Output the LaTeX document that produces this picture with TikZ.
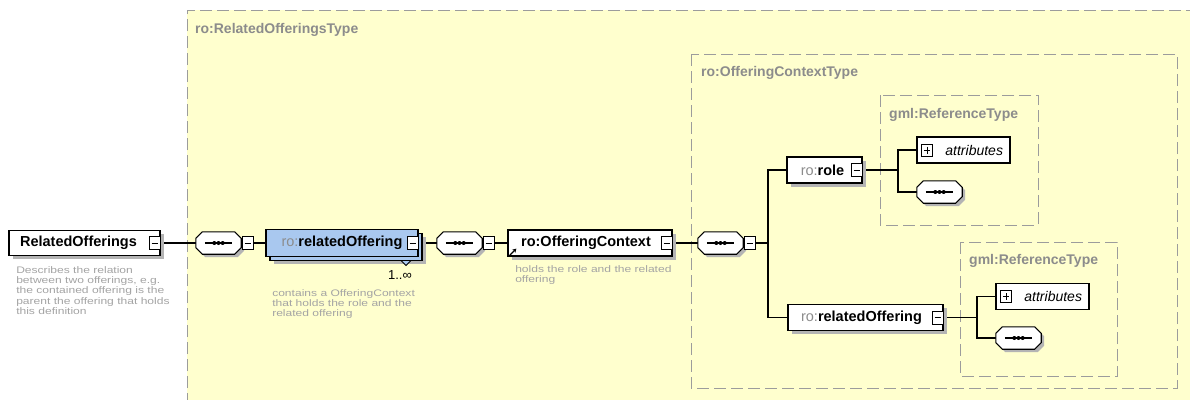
\documentclass[tikz,border=0pt]{standalone}
\usepackage{fontspec}
\setmainfont{Liberation Sans}
\usetikzlibrary{calc,shadows,arrows.meta}
\definecolor{bgyellow}{HTML}{FFFFCE}
\definecolor{blueel}{HTML}{A9C8EF}
\definecolor{grptext}{HTML}{8C8C8C}
\definecolor{desctext}{HTML}{A4A4A4}
\definecolor{prefix}{HTML}{8C8C8C}
\definecolor{dashgray}{HTML}{9C9C9C}
\definecolor{shadowgray}{HTML}{B4B4B4}
\pgfdeclarelayer{bg}
\pgfdeclarelayer{conn}
\pgfsetlayers{bg,conn,main}
\newcommand\octo[3]{($(#1.north west)+(#2+6.5,#3)$) -- ($(#1.north east)+(#2-6.5,#3)$) -- ($(#1.north east)+(#2,#3+6.5)$) -- ($(#1.south east)+(#2,#3-6.5)$) -- ($(#1.south east)+(#2-6.5,#3)$) -- ($(#1.south west)+(#2+6.5,#3)$) -- ($(#1.south west)+(#2,#3-6.5)$) -- ($(#1.north west)+(#2,#3+6.5)$) -- cycle}
\newcommand\seqnode[3]{%
  \node[seqbox] (#1) at (#2,#3) {};
  \fill[shadowgray] \octo{#1}{3}{3};
  \filldraw[fill=white,draw=black,line width=1.1pt] \octo{#1}{0}{0};
  \draw[line width=1.1pt] ($(#1.west)+(9,0)$) -- ($(#1.east)+(-9,0)$);
  \fill[black] ($(#1.center)+(-4.2,0)$) circle[radius=2pt];
  \fill[black] (#1.center) circle[radius=2pt];
  \fill[black] ($(#1.center)+(4.2,0)$) circle[radius=2pt];
}
\begin{document}
\begin{tikzpicture}[x=1pt,y=-1pt,
  elembase/.style={draw=black, line width=1.2pt, fill=white, minimum height=26pt, inner sep=0pt,
    font=\fontsize{14.5}{16}\selectfont\bfseries},
  elem/.style={elembase, drop shadow={shadow xshift=3.5pt, shadow yshift=-3.5pt, fill=shadowgray, opacity=1}},
  minusbox/.style={draw=black, line width=0.9pt, fill=white, minimum width=11pt, minimum height=13pt, inner sep=0pt,
    path picture={\draw[line width=0.9pt] ([xshift=2.5pt]path picture bounding box.west) -- ([xshift=-2.5pt]path picture bounding box.east);}},
  plusbox/.style={draw=black, line width=0.9pt, fill=white, minimum width=11pt, minimum height=12pt, inner sep=0pt,
    path picture={\draw[line width=0.9pt] ([xshift=2.5pt]path picture bounding box.west) -- ([xshift=-2.5pt]path picture bounding box.east);
      \draw[line width=0.9pt] ([yshift=-2.5pt]path picture bounding box.north) -- ([yshift=2.5pt]path picture bounding box.south);}},
  seqbox/.style={rectangle, minimum width=45pt, minimum height=22pt, inner sep=0pt},
  attrbox/.style={draw=black, line width=1.1pt, fill=white, minimum height=26pt, inner ysep=0pt, inner xsep=7pt,
    text width=79pt, align=right, font=\fontsize{14}{16}\selectfont\itshape},
  conn/.style={draw=black, line width=1.1pt},
  dashbox/.style={draw=dashgray, line width=1pt, dash pattern=on 12pt off 5pt},
  grp/.style={anchor=base west, inner sep=0pt, text=grptext, font=\fontsize{14}{16}\selectfont\bfseries},
  desc/.style={anchor=north west, inner sep=0pt, text=desctext, align=left, xscale=1.27, transform shape,
    font=\fontsize{9.5}{10.4}\selectfont}
]
\useasboundingbox (0,0) rectangle (1190,399);
\begin{pgfonlayer}{bg}
  \fill[white] (0,0) rectangle (1190,399);
  \fill[bgyellow] (187,10) rectangle (1195,405);
  \draw[dashbox] (187,405) -- (187,10) -- (1195,10);
  \draw[dashbox] (691,54) rectangle (1177,388);
  \draw[dashbox] (880,95) rectangle (1038,225);
  \draw[dashbox] (960,242) rectangle (1117,376);
\end{pgfonlayer}

% group labels
\node[grp] (g1) at (195,33) {ro:RelatedOfferingsType};
\node[grp] (g2) at (701,76) {ro:OfferingContextType};
\node[grp] (g3) at (889,118) {gml:ReferenceType};
\node[grp] (g4) at (969,264) {gml:ReferenceType};

% root element
\node[elem, minimum width=151pt, minimum height=25pt] (ro) at (84.5,243) {RelatedOfferings\hspace*{12pt}};
\node[minusbox] (rom) at ($(ro.east)+(-6,0)$) {};
\node[desc] (d1) at (16,266) {Describes the relation\\between two offerings, e.g.\\the contained offering is the\\parent the offering that holds\\this definition};

\seqnode{s1}{218.5}{243}
\node[minusbox] (s1m) at ($(s1.east)+(6.5,0)$) {};

% relatedOffering (multiple)
\node[elem, fill=blueel, minimum width=152pt, minimum height=27pt] (relb) at (346,247) {};
\node[elembase, fill=blueel, minimum width=152pt, minimum height=27pt] (rel) at (342,243) {\textcolor{prefix}{\mdseries ro:}relatedOffering};
\node[minusbox] (relm) at ($(rel.east)+(-6,0)$) {};
\filldraw[fill=blueel, draw=black, line width=0.8pt] (401,260.5) -- (411,260.5) -- (406,265.5) -- cycle;
\node[anchor=east, inner sep=0pt, font=\fontsize{13}{15}\selectfont] (card) at (412,275) {1..∞};
\node[desc] (d2) at (272,289) {contains a OfferingContext\\that holds the role and the\\related offering};

\seqnode{s2}{459.5}{243}
\node[minusbox] (s2m) at ($(s2.east)+(6.5,0)$) {};

% OfferingContext
\node[elem, minimum width=164pt] (oc) at (590,243) {ro:OfferingContext\hspace*{8pt}};
\node[minusbox] (ocm) at ($(oc.east)+(-6,0)$) {};
\coordinate (ocarr) at ($(oc.south west)+(9,-8)$);
\draw[line width=1.2pt, -{Stealth[length=4pt,width=4.5pt]}] ($(oc.south west)+(2.5,-1.5)$) -- (ocarr);
\node[desc] (d3) at (515,265) {holds the role and the related\\offering};

\seqnode{s3}{720.5}{243}
\node[minusbox] (s3m) at ($(s3.east)+(6.5,0)$) {};
\coordinate (j0) at (768,243);

% role
\node[elem, minimum width=75pt] (role) at (824.5,170) {\textcolor{prefix}{\mdseries ro:}role\hspace*{4pt}};
\node[minusbox] (rolem) at ($(role.east)+(-6,0)$) {};
\coordinate (j1) at (898,170);
\node[attrbox] (attr1) at (963.5,150) {attributes};
\node[plusbox] (attr1p) at ($(attr1.west)+(10.5,0)$) {};
\seqnode{s4}{939.5}{192}

% inner relatedOffering
\node[elem, minimum width=155pt] (relo) at (865.5,317.5) {\textcolor{prefix}{\mdseries ro:}relatedOffering\hspace*{8pt}};
\node[minusbox] (relom) at ($(relo.east)+(-6,0)$) {};
\coordinate (j2) at (977,317.5);
\node[attrbox] (attr2) at (1042.5,296.5) {attributes};
\node[plusbox] (attr2p) at ($(attr2.west)+(10.5,0)$) {};
\seqnode{s5}{1018.5}{338}

\begin{pgfonlayer}{conn}
  \draw[conn] (rom.east) -- (s1.west);
  \draw[conn] (s1m.east) -- (rel.west);
  \draw[conn] (relb.east |- relm.east) -- (s2.west);
  \draw[conn] (s2m.east) -- (oc.west);
  \draw[conn] (ocm.east) -- (s3.west);
  \draw[conn] (s3m.east) -- (j0);
  \draw[conn] (role.west) -| (j0) |- (relo.west);
  \draw[conn] (rolem.east) -- (j1);
  \draw[conn] (attr1.west) -| (j1) |- (s4.west);
  \draw[conn] (relom.east) -- (j2);
  \draw[conn] (attr2.west) -| (j2) |- (s5.west);
\end{pgfonlayer}
\end{tikzpicture}
\end{document}
